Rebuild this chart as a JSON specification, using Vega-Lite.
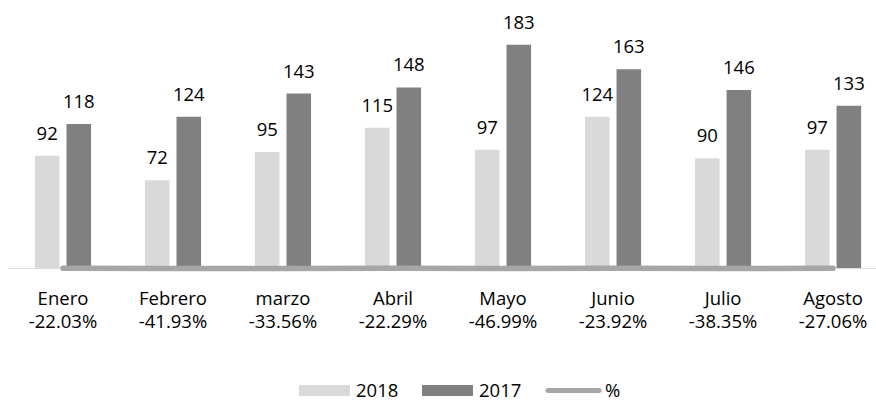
{
  "$schema": "https://vega.github.io/schema/vega-lite/v6.json",
  "autosize": {"type": "none"},
  "padding": {"left": 8, "top": 24, "right": 0, "bottom": 132},
  "width": 868,
  "height": 244,
  "background": "white",
  "config": {"view": {"stroke": null}, "font": "Open Sans"},
  "datasets": {
    "barras": [
      {"cat": "Enero|-22.03%", "serie": "2018", "valor": 92},
      {"cat": "Enero|-22.03%", "serie": "2017", "valor": 118},
      {"cat": "Febrero|-41.93%", "serie": "2018", "valor": 72},
      {"cat": "Febrero|-41.93%", "serie": "2017", "valor": 124},
      {"cat": "marzo|-33.56%", "serie": "2018", "valor": 95},
      {"cat": "marzo|-33.56%", "serie": "2017", "valor": 143},
      {"cat": "Abril|-22.29%", "serie": "2018", "valor": 115},
      {"cat": "Abril|-22.29%", "serie": "2017", "valor": 148},
      {"cat": "Mayo|-46.99%", "serie": "2018", "valor": 97},
      {"cat": "Mayo|-46.99%", "serie": "2017", "valor": 183},
      {"cat": "Junio|-23.92%", "serie": "2018", "valor": 124},
      {"cat": "Junio|-23.92%", "serie": "2017", "valor": 163},
      {"cat": "Julio|-38.35%", "serie": "2018", "valor": 90},
      {"cat": "Julio|-38.35%", "serie": "2017", "valor": 146},
      {"cat": "Agosto|-27.06%", "serie": "2018", "valor": 97},
      {"cat": "Agosto|-27.06%", "serie": "2017", "valor": 133}
    ],
    "linea": [
      {"cat": "Enero|-22.03%", "serie": "%", "pct": -0.2203},
      {"cat": "Febrero|-41.93%", "serie": "%", "pct": -0.4193},
      {"cat": "marzo|-33.56%", "serie": "%", "pct": -0.3356},
      {"cat": "Abril|-22.29%", "serie": "%", "pct": -0.2229},
      {"cat": "Mayo|-46.99%", "serie": "%", "pct": -0.4699},
      {"cat": "Junio|-23.92%", "serie": "%", "pct": -0.2392},
      {"cat": "Julio|-38.35%", "serie": "%", "pct": -0.3835},
      {"cat": "Agosto|-27.06%", "serie": "%", "pct": -0.2706}
    ]
  },
  "encoding": {
    "x": {
      "field": "cat",
      "type": "nominal",
      "sort": null,
      "scale": {"paddingInner": 0.49, "paddingOuter": 0.19, "align": 0.644},
      "axis": {
        "title": null,
        "labelAngle": 0,
        "ticks": false,
        "domainColor": "#d9d9d9",
        "domainWidth": 1,
        "labelFontSize": 18.5,
        "labelFont": "Open Sans",
        "labelColor": "#000000",
        "labelPadding": 21,
        "labelLineHeight": 23,
        "labelExpr": "split(datum.label, '|')"
      }
    }
  },
  "layer": [
    {
      "data": {"name": "barras"},
      "mark": {"type": "bar"},
      "encoding": {
        "xOffset": {"field": "serie", "type": "nominal", "sort": ["2018", "2017"], "scale": {"paddingInner": 0.222, "paddingOuter": 0}},
        "y": {"field": "valor", "type": "quantitative", "scale": {"domain": [0, 200], "nice": false}, "axis": null},
        "color": {
          "field": "serie",
          "type": "nominal",
          "scale": {"domain": ["2018", "2017", "%"], "range": ["#d9d9d9", "#808080", "#a6a6a6"]},
          "legend": {
            "orient": "none",
            "legendX": 291,
            "legendY": 341,
            "direction": "horizontal",
            "title": null,
            "padding": 0,
            "symbolType": "M-1,-0.22H1V0.22H-1Z",
            "symbolSize": 2601,
            "symbolStrokeWidth": 0,
            "labelFontSize": 18.5,
            "labelFont": "Open Sans",
            "labelColor": "#000000",
            "labelOffset": 6,
            "columnPadding": 23,
            "encode": {
              "symbols": {
                "update": {
                  "fill": {"scale": "color", "field": "value"},
                  "opacity": {"value": 1},
                  "shape": {"signal": "datum.value === '%' ? 'M-1,-0.1H1A0.1,0.1 0 0 1 1,0.1H-1A0.1,0.1 0 0 1 -1,-0.1Z' : 'M-1,-0.22H1V0.22H-1Z'"}
                }
              }
            }
          }
        }
      }
    },
    {
      "data": {"name": "barras"},
      "mark": {"type": "text", "baseline": "alphabetic", "dy": -16, "fontSize": 18.5, "font": "Open Sans", "color": "#000000"},
      "encoding": {
        "xOffset": {"field": "serie", "type": "nominal", "sort": ["2018", "2017"], "scale": {"paddingInner": 0.222, "paddingOuter": 0}},
        "y": {"field": "valor", "type": "quantitative"},
        "text": {"field": "valor", "type": "quantitative"}
      }
    },
    {
      "data": {"name": "linea"},
      "mark": {"type": "line", "strokeWidth": 5.5, "strokeCap": "round"},
      "encoding": {
        "y": {"field": "pct", "type": "quantitative"},
        "color": {"field": "serie", "type": "nominal"}
      }
    }
  ]
}
